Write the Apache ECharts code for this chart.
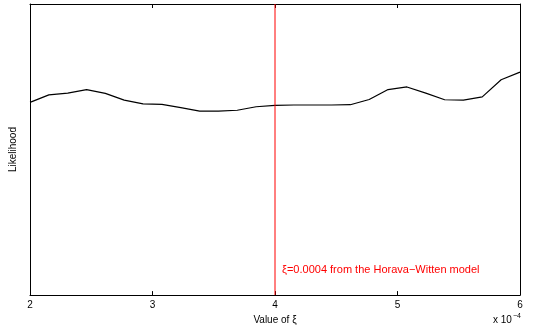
<!DOCTYPE html>
<html><head><meta charset="utf-8">
<script src="https://cdn.jsdelivr.net/npm/echarts@6/dist/echarts.min.js"></script>
<style>html,body{margin:0;padding:0;background:#fff}#c{width:535px;height:330px}</style>
</head><body><div id="c"></div>
<script>
const xiValues = [2, 2.154, 2.308, 2.462, 2.615, 2.769, 2.923, 3.077, 3.231, 3.385, 3.538, 3.692, 3.846, 4.0, 4.154, 4.308, 4.462, 4.615, 4.769, 4.923, 5.077, 5.231, 5.385, 5.538, 5.692, 5.846, 6];
const likelihood = [0.662, 0.688, 0.694, 0.706, 0.693, 0.670, 0.657, 0.655, 0.644, 0.632, 0.632, 0.635, 0.647, 0.652, 0.653, 0.653, 0.653, 0.654, 0.672, 0.706, 0.715, 0.694, 0.671, 0.670, 0.681, 0.740, 0.766];
const xTicks = [2, 3, 4, 5, 6];
const modelXi = 4;
const modelLabel = 'ξ=0.0004 from the Horava\u2212Witten model';
const font = '"Liberation Sans", Arial, sans-serif';

const chart = echarts.init(document.getElementById('c'));
const axisBase = {
  type: 'value', min: xTicks[0], max: xTicks[xTicks.length - 1], interval: 1,
  axisLine: {show: true, onZero: false, lineStyle: {color: '#000', width: 1}},
  axisTick: {show: true, inside: true, length: 4, lineStyle: {color: '#000'}},
  splitLine: {show: false}
};
chart.setOption({
  animation: false,
  grid: {left: 28, right: 15, top: 4, bottom: 31},
  xAxis: [
    Object.assign({}, axisBase, {
      position: 'bottom',
      axisLabel: {color: '#000', fontSize: 10, fontFamily: font, margin: 5},
      name: 'Value of ξ', nameLocation: 'middle', nameGap: 17,
      nameTextStyle: {color: '#000', fontSize: 10, fontFamily: font}
    }),
    Object.assign({}, axisBase, {position: 'top', axisLabel: {show: false}})
  ],
  yAxis: [
    {type: 'value', min: 0, max: 1, position: 'left',
     axisLine: {show: true, onZero: false, lineStyle: {color: '#000'}}, axisTick: {show: false},
     axisLabel: {show: false}, splitLine: {show: false},
     name: 'Likelihood', nameLocation: 'middle', nameGap: 12, nameRotate: 90,
     nameTextStyle: {color: '#000', fontSize: 10, fontFamily: font}},
    {type: 'value', min: 0, max: 1, position: 'right',
     axisLine: {show: true, onZero: false, lineStyle: {color: '#000'}}, axisTick: {show: false},
     axisLabel: {show: false}, splitLine: {show: false}}
  ],
  series: [
    {type: 'line', data: xiValues.map((x, i) => [x, likelihood[i]]),
     symbol: 'none', lineStyle: {color: '#000', width: 1.2}, z: 3},
    {type: 'line', data: [[modelXi, 0], [modelXi, 1]], symbol: 'none',
     lineStyle: {color: '#ff0000', width: 1}, z: 4}
  ],
  graphic: [
    {type: 'text', left: 282, top: 264,
     style: {text: modelLabel, fill: '#ff0000', fontSize: 11, fontFamily: font}},
    {type: 'text', left: 493, top: 313,
     style: {text: 'x 10{s|−4}', fill: '#000', fontSize: 10, fontFamily: font,
       rich: {s: {fontSize: 7, fontFamily: font, fill: '#000', verticalAlign: 'top', padding: [0, 0, 8, 1]}}}}
  ]
});
</script></body></html>
